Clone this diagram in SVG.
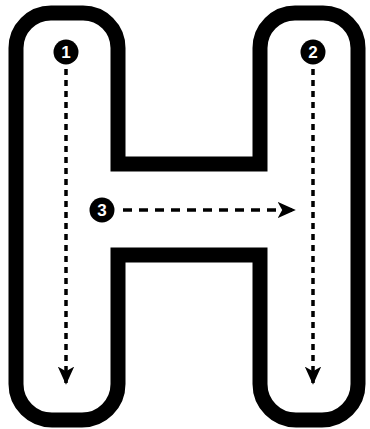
<svg xmlns="http://www.w3.org/2000/svg" width="370" height="429" viewBox="0 0 370 429">
<style>
.outline{fill:#fff;stroke:#000;stroke-width:15;stroke-linejoin:miter}
.dash{fill:none;stroke:#000;stroke-width:3.5}
.v{stroke-dasharray:6 5}
.h{stroke-dasharray:9 7}
.badge circle{fill:#000}
.badge text{fill:#fff;font-family:"Liberation Sans",Arial,sans-serif;font-weight:bold;font-size:17px;text-anchor:middle;dominant-baseline:central}
</style>
<defs>
<marker id="ah" viewBox="0 0 10 10" refX="9" refY="5" markerWidth="5.2" markerHeight="5.2" orient="auto">
<path d="M0,0.5 L10,5 L0,9.5 L2.5,5 Z" fill="#000"/>
</marker>
</defs>
<rect width="370" height="429" fill="#fff"/>
<g id="letter-h">
<path class="outline" d="M16,48 A35,35 0 0 1 51,13 H83 A35,35 0 0 1 118,48 V164 H260 V48 A35,35 0 0 1 295,13 H323 A35,35 0 0 1 358,48 V384 A36,36 0 0 1 322,420 H296 A36,36 0 0 1 260,384 V255 H118 V384 A36,36 0 0 1 82,420 H52 A36,36 0 0 1 16,384 Z"/>
</g>
<g id="connectors">
<line class="dash v" x1="66" y1="69" x2="66" y2="383" marker-end="url(#ah)"/>
<line class="dash v" x1="313" y1="69" x2="313" y2="383" marker-end="url(#ah)"/>
<line class="dash h" x1="123" y1="210" x2="294" y2="210" marker-end="url(#ah)"/>
</g>
<g id="step-1" class="badge"><circle cx="66" cy="52" r="12.5"/><text x="66" y="52.5">1</text></g>
<g id="step-2" class="badge"><circle cx="313" cy="52" r="12.5"/><text x="313" y="52.5">2</text></g>
<g id="step-3" class="badge"><circle cx="102" cy="210" r="12.5"/><text x="102" y="210.5">3</text></g>
</svg>
